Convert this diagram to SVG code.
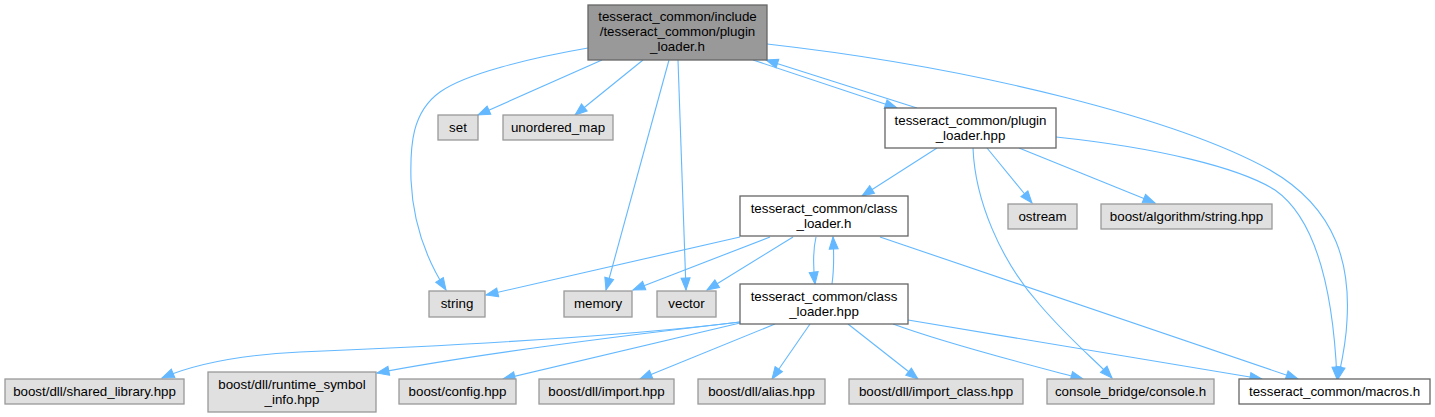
<svg xmlns="http://www.w3.org/2000/svg" width="1435" height="417" viewBox="0 0 1435 417">
<style>
text{font-family:"Liberation Sans",Helvetica,Arial,sans-serif;font-size:13.33px;fill:#000;text-anchor:middle}
.root rect{fill:#999999;stroke:#666666;stroke-width:1.3}
.ext rect{fill:#e0e0e0;stroke:#999999;stroke-width:1.3}
.int rect{fill:#ffffff;stroke:#666666;stroke-width:1.3}
#edges path{fill:none;stroke:#63b8ff;stroke-width:1.1;marker-end:url(#arr)}
</style>
<defs>
<marker id="arr" markerUnits="userSpaceOnUse" markerWidth="13" markerHeight="10" refX="12" refY="4.5" orient="auto" viewBox="0 0 13 10" overflow="visible">
<path d="M0,0 L12,4.5 L0,9 z" fill="#63b8ff" stroke="#63b8ff" stroke-width="1"/>
</marker>
</defs>
<rect width="1435" height="417" fill="#ffffff"/>
<g id="edges">
<path d="M588,48 C530,58 465,74 440,92 C412,112 410,145 411,180 C413,225 428,262 446,290"/>
<path d="M602,60 L478,115"/>
<path d="M643,60 L575,115"/>
<path d="M669,60 L606,290"/>
<path d="M678,60 L686,290"/>
<path d="M753,60 L897,108"/>
<path d="M917,108 L766,60"/>
<path d="M767,44 C980,68 1180,120 1270,170 C1340,210 1350,270 1347,320 C1346,345 1341,365 1338,379"/>
<path d="M937,148 L862,196"/>
<path d="M987,148 L1032,203"/>
<path d="M1019,148 L1155,203"/>
<path d="M973,148 C975,200 1000,260 1040,305 C1070,340 1095,360 1112,378"/>
<path d="M1056,137 C1160,148 1240,168 1275,190 C1315,218 1333,285 1337,379"/>
<path d="M740,237 L486,295"/>
<path d="M770,237 L633,290"/>
<path d="M793,237 L707,290"/>
<path d="M816,237 C813,250 813,266 815,284"/>
<path d="M832,284 C834,270 834,254 833,237"/>
<path d="M880,237 L1298,379"/>
<path d="M740,322 C620,337 420,347 300,352 C240,355 195,364 162,378"/>
<path d="M740,322 C620,336 470,355 377,373"/>
<path d="M740,323 L503,379"/>
<path d="M775,324 L640,379"/>
<path d="M810,324 L772,379"/>
<path d="M848,324 L918,379"/>
<path d="M893,324 C950,345 1030,365 1083,379"/>
<path d="M908,320 L1262,379"/>
</g>
<g id="n_root" class="root"><rect x="588" y="5" width="179" height="55"/><text x="677.5" y="21">tesseract_common/include</text><text x="677.5" y="36">/tesseract_common/plugin</text><text x="677.5" y="51">_loader.h</text></g>
<g id="n_set" class="ext"><rect x="438" y="115" width="40" height="25"/><text x="458" y="132">set</text></g>
<g id="n_unordered_map" class="ext"><rect x="503" y="115" width="110" height="25"/><text x="558" y="132">unordered_map</text></g>
<g id="n_plugin_loader_hpp" class="int"><rect x="885" y="108" width="171" height="40"/><text x="970.5" y="124.5">tesseract_common/plugin</text><text x="970.5" y="139.5">_loader.hpp</text></g>
<g id="n_ostream" class="ext"><rect x="1008" y="204" width="69" height="25"/><text x="1042.5" y="221">ostream</text></g>
<g id="n_algo_string" class="ext"><rect x="1101" y="204" width="171" height="25"/><text x="1186.5" y="221">boost/algorithm/string.hpp</text></g>
<g id="n_class_loader_h" class="int"><rect x="740" y="196" width="168" height="40"/><text x="824" y="212.5">tesseract_common/class</text><text x="824" y="227.5">_loader.h</text></g>
<g id="n_class_loader_hpp" class="int"><rect x="740" y="284" width="168" height="40"/><text x="824" y="300.5">tesseract_common/class</text><text x="824" y="315.5">_loader.hpp</text></g>
<g id="n_string" class="ext"><rect x="429" y="291" width="56" height="26"/><text x="457" y="308">string</text></g>
<g id="n_memory" class="ext"><rect x="564" y="291" width="68" height="26"/><text x="598" y="308">memory</text></g>
<g id="n_vector" class="ext"><rect x="657" y="291" width="59" height="26"/><text x="686.5" y="308">vector</text></g>
<g id="n_shared_library" class="ext"><rect x="5" y="379" width="179" height="25"/><text x="94.5" y="396">boost/dll/shared_library.hpp</text></g>
<g id="n_runtime_symbol_info" class="ext"><rect x="208" y="372" width="168" height="40"/><text x="292" y="388.5">boost/dll/runtime_symbol</text><text x="292" y="403.5">_info.hpp</text></g>
<g id="n_config" class="ext"><rect x="399" y="379" width="117" height="25"/><text x="457.5" y="396">boost/config.hpp</text></g>
<g id="n_import" class="ext"><rect x="539" y="379" width="135" height="25"/><text x="606.5" y="396">boost/dll/import.hpp</text></g>
<g id="n_alias" class="ext"><rect x="698" y="379" width="127" height="25"/><text x="761.5" y="396">boost/dll/alias.hpp</text></g>
<g id="n_import_class" class="ext"><rect x="849" y="379" width="174" height="25"/><text x="936" y="396">boost/dll/import_class.hpp</text></g>
<g id="n_console" class="ext"><rect x="1047" y="379" width="167" height="25"/><text x="1130.5" y="396">console_bridge/console.h</text></g>
<g id="n_macros" class="int"><rect x="1239" y="379" width="191" height="25"/><text x="1334.5" y="396">tesseract_common/macros.h</text></g>
</svg>
